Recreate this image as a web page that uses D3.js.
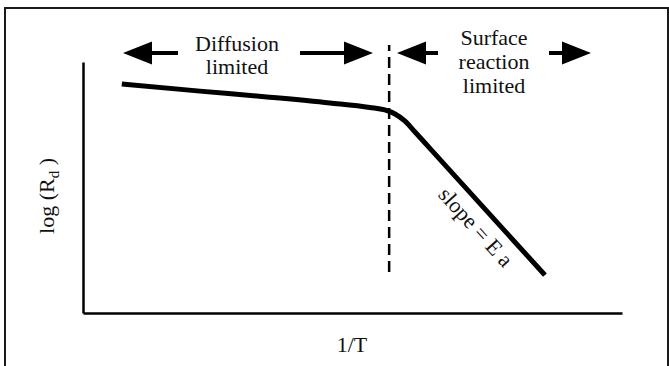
<!DOCTYPE html>
<html><head><meta charset="utf-8">
<script src="https://cdn.jsdelivr.net/npm/d3@7"></script>
<style>html,body{margin:0;padding:0;background:#fff;}svg{display:block;}
svg text{font-family:"Liberation Serif",serif;font-weight:normal;fill:#111;}</style>
</head><body>
<script>
// Data (arbitrary units: x = 1/T, y = log(Rd))
const curveX = [0.72, 2.17, 3.41, 4.58, 5.32, 5.60, 5.79, 5.97, 6.16, 6.44, 8.57];
const curveY = [9.12, 8.84, 8.61, 8.37, 8.19, 8.09, 7.93, 7.65, 7.21, 6.55, 1.51];
const transitionX = 5.68;              // boundary between regimes
const transitionY = [1.63, 10.68];
const regionLabels = [["Diffusion", "limited"], ["Surface", "reaction", "limited"]];
const xLabel = "1/T";
const slopeLabel = "slope = E a";

const W = 669, H = 366;
const SERIF = "Liberation Serif";
const svg = d3.select("body").append("svg").attr("width", W).attr("height", H);

// outer frame
svg.append("rect").attr("x", 5).attr("y", 8).attr("width", 663).attr("height", 400)
  .attr("fill", "none").attr("stroke", "#1a1a1a").attr("stroke-width", 2);

const x = d3.scaleLinear().domain([0, 10]).range([83, 622]);
const y = d3.scaleLinear().domain([0, 10]).range([313, 62]);

// axes (plain lines, no ticks)
const g = svg.append("g");
g.append("g").attr("transform", `translate(0,${y(0)})`)
  .call(d3.axisBottom(x).tickValues([]).tickSizeOuter(0))
  .call(s => s.select(".domain").attr("stroke", "#000").attr("stroke-width", 2.5));
g.append("g").attr("transform", `translate(${x(0)},0)`)
  .call(d3.axisLeft(y).tickValues([]).tickSizeOuter(0))
  .call(s => s.select(".domain").attr("stroke", "#000").attr("stroke-width", 2.5));

// dashed transition line
svg.append("line")
  .attr("x1", x(transitionX)).attr("x2", x(transitionX))
  .attr("y1", y(transitionY[0])).attr("y2", y(transitionY[1]))
  .attr("stroke", "#000").attr("stroke-width", 2.5).attr("stroke-dasharray", "11,6");

// curve
const pts = curveX.map((v, i) => [v, curveY[i]]);
svg.append("path").datum(pts)
  .attr("d", d3.line().x(d => x(d[0])).y(d => y(d[1])).curve(d3.curveMonotoneX))
  .attr("fill", "none").attr("stroke", "#000").attr("stroke-width", 5)
  .attr("stroke-linejoin", "round");

// arrows
function arrow(tipX, shaftEnd, yy) {
  const dir = Math.sign(shaftEnd - tipX);
  const headLen = 29, half = 11.5;
  const base = tipX + dir * headLen;
  svg.append("line").attr("x1", base).attr("x2", shaftEnd).attr("y1", yy).attr("y2", yy)
    .attr("stroke", "#000").attr("stroke-width", 4);
  svg.append("path").attr("d", `M${tipX},${yy}L${base},${yy - half}L${base},${yy + half}Z`).attr("fill", "#000");
}
const ay = 53;
arrow(123, 178, ay);
arrow(373, 300, ay);
arrow(397, 438, ay);
arrow(591, 549, ay);

// region labels
function label(lines, cx, y0, dy) {
  const t = svg.append("text").attr("font-family", SERIF).attr("font-size", 22).attr("text-anchor", "middle");
  lines.forEach((l, i) => t.append("tspan").attr("x", cx).attr("y", y0 + i * dy).text(l));
}
label(regionLabels[0], 237, 51, 23);
label(regionLabels[1], 494, 45, 24);

// x label
svg.append("text").attr("x", 352).attr("y", 352).attr("font-size", 22)
  .attr("font-family", SERIF).attr("text-anchor", "middle").text(xLabel);

// y label
const yl = svg.append("text").attr("transform", "translate(54,196) rotate(-90)")
  .attr("font-family", SERIF).attr("font-size", 22).attr("text-anchor", "middle");
yl.append("tspan").text("log (R");
yl.append("tspan").attr("font-size", 15).attr("dy", 5).text("d");
yl.append("tspan").attr("dy", -5).text(" )");

// slope label
const ang = Math.atan2(y(curveY[10]) - y(curveY[9]), x(curveX[10]) - x(curveX[9])) * 180 / Math.PI;
svg.append("text").attr("transform", `translate(476,227) rotate(${ang})`)
  .attr("font-family", SERIF).attr("font-size", 22).attr("text-anchor", "middle")
  .attr("dominant-baseline", "central").text(slopeLabel);
</script>
</body></html>
